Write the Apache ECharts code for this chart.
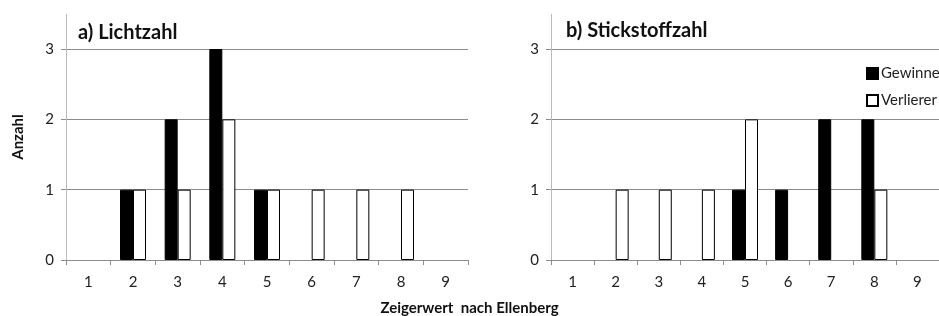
<!DOCTYPE html>
<html>
<head>
<meta charset="utf-8">
<script src="https://cdn.jsdelivr.net/npm/echarts@6/dist/echarts.min.js"></script>
<style>
html, body { margin: 0; padding: 0; background: #fff; }
#main { width: 939px; height: 316px; }
</style>
</head>
<body>
<div id="main"></div>
<script>
// Zeigerwerte 1-9
var categories = ['1', '2', '3', '4', '5', '6', '7', '8', '9'];
// a) Lichtzahl
var lichtGewinne = [0, 1, 2, 3, 1, 0, 0, 0, 0];
var lichtVerlierer = [0, 1, 1, 2, 1, 1, 1, 1, 0];
// b) Stickstoffzahl
var stickGewinne = [0, 0, 0, 0, 1, 1, 2, 2, 0];
var stickVerlierer = [0, 1, 1, 1, 2, 0, 0, 1, 0];
var yTicks = [0, 1, 2, 3];

var font = 'Lato, "Open Sans", sans-serif';
var gray = '#8c8c8c';

function xAxis(idx) {
	return {
		type: 'category',
		gridIndex: idx,
		data: categories,
		boundaryGap: true,
		axisLine: { lineStyle: { color: gray, width: 1 } },
		axisTick: { show: true, length: 5, lineStyle: { color: gray } },
		axisLabel: { color: '#222', fontFamily: font, fontSize: 15, margin: 15 }
	};
}
function yAxis(idx) {
	return {
		type: 'value',
		gridIndex: idx,
		min: yTicks[0],
		max: yTicks[yTicks.length - 1],
		interval: 1,
		axisLine: { show: true, lineStyle: { color: '#bbb', width: 1 } },
		axisTick: { show: true, length: 5, lineStyle: { color: gray } },
		axisLabel: { color: '#222', fontFamily: font, fontSize: 15, margin: 12 },
		splitLine: { show: true, lineStyle: { color: gray, width: 1 } }
	};
}
function bars(name, data, idx, filled) {
	return {
		name: name,
		type: 'bar',
		xAxisIndex: idx,
		yAxisIndex: idx,
		// Nullwerte nicht als Strich zeichnen
		data: data.map(function (v) { return v === 0 ? '-' : v; }),
		barWidth: 13,
		barGap: '0%',
		itemStyle: filled
			? { color: '#000', borderColor: '#000', borderWidth: 1 }
			: { color: '#fff', borderColor: '#000', borderWidth: 1 }
	};
}

var myChart = echarts.init(document.getElementById('main'));
var option = {
	animation: false,
	backgroundColor: '#fff',
	textStyle: { fontFamily: font },
	title: [
		{ text: 'a) Lichtzahl', left: 73, top: 18, textStyle: { fontFamily: font, fontSize: 20, fontWeight: 'bold', color: '#111' } },
		{ text: 'b) Stickstoffzahl', left: 561, top: 16, textStyle: { fontFamily: font, fontSize: 20, fontWeight: 'bold', color: '#111' } },
		{ text: 'Zeigerwert  nach Ellenberg', left: 'center', top: 296, textStyle: { fontFamily: font, fontSize: 15, fontWeight: 'bold', color: '#111' } }
	],
	legend: {
		orient: 'vertical',
		left: 866,
		top: 66,
		padding: 0,
		itemGap: 12,
		itemWidth: 11,
		itemHeight: 11,
		icon: 'rect',
		data: ['Gewinne', 'Verlierer'],
		textStyle: { fontFamily: font, fontSize: 15, color: '#222', padding: [0, 0, 0, -2] }
	},
	grid: [
		{ left: 66, top: 49, width: 402, height: 211 },
		{ left: 551, top: 49, width: 400, height: 211 }
	],
	xAxis: [xAxis(0), xAxis(1)],
	yAxis: [yAxis(0), yAxis(1)],
	graphic: [
		{ type: 'line', shape: { x1: 66.5, y1: 14, x2: 66.5, y2: 49 }, style: { stroke: '#bbb', lineWidth: 1 } },
		{ type: 'line', shape: { x1: 551.5, y1: 14, x2: 551.5, y2: 49 }, style: { stroke: '#bbb', lineWidth: 1 } },
		{ type: 'text', x: 18, y: 137, rotation: Math.PI / 2, style: { text: 'Anzahl', font: 'bold 15px ' + font, fill: '#111', textAlign: 'center', textVerticalAlign: 'middle' } }
	],
	series: [
		bars('Gewinne', lichtGewinne, 0, true),
		bars('Verlierer', lichtVerlierer, 0, false),
		bars('Gewinne', stickGewinne, 1, true),
		bars('Verlierer', stickVerlierer, 1, false)
	]
};
myChart.setOption(option);
</script>
</body>
</html>
